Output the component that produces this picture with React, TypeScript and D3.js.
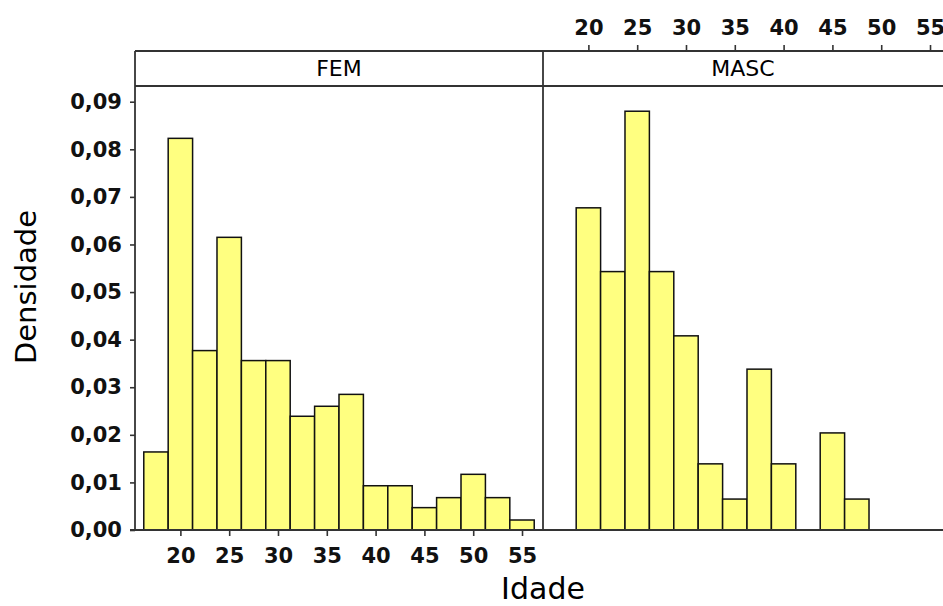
import * as d3 from 'd3';
import React, { useEffect, useRef } from 'react';

// histogram bins (midpoints, width 2.5)
const binMids = [17.5, 20, 22.5, 25, 27.5, 30, 32.5, 35, 37.5, 40, 42.5, 45, 47.5, 50, 52.5, 55];
const binWidth = 2.5;
const femDensity = [0.0164, 0.0823, 0.0377, 0.0615, 0.0356, 0.0356, 0.0239, 0.026, 0.0285, 0.0093, 0.0093, 0.0047, 0.0068, 0.0117, 0.0068, 0.0021];
const mascDensity = [0, 0.0677, 0.0543, 0.088, 0.0543, 0.0408, 0.0139, 0.0065, 0.0338, 0.0139, 0, 0.0204, 0.0065, 0, 0, 0];
const panels = ['FEM', 'MASC'];
const xTicks = [20, 25, 30, 35, 40, 45, 50, 55];
const yTicks = [0, 0.01, 0.02, 0.03, 0.04, 0.05, 0.06, 0.07, 0.08, 0.09];

const W = 943;
const H = 606;
const FONT = '"DejaVu Sans", Verdana, sans-serif';

export default function App() {
  const ref = useRef<SVGSVGElement>(null);

  useEffect(() => {
    const svg = d3.select(ref.current);
    svg.selectAll('*').remove();

    const left = 135, panelW = 408, stripTop = 51, plotTop = 86, base = 530;
    const x = d3.scaleLinear().domain([15.35, 57.15]).range([0, panelW]);
    const y = d3.scaleLinear().domain([0, 0.0933]).range([base, plotTop]);
    const line = '#333';

    svg.append('rect').attr('width', W).attr('height', H).attr('fill', '#fff');

    const series = [femDensity, mascDensity];
    panels.forEach((name, p) => {
      const g = svg.append('g').attr('transform', 'translate(' + (left + p * panelW) + ',0)');
      g.selectAll('rect.bar')
        .data(binMids.map((m, i) => ({ m, v: series[p][i] })).filter(d => d.v > 0))
        .enter()
        .append('rect')
        .attr('class', 'bar')
        .attr('x', d => x(d.m - binWidth / 2))
        .attr('width', d => x(d.m + binWidth / 2) - x(d.m - binWidth / 2))
        .attr('y', d => y(d.v))
        .attr('height', d => base - y(d.v))
        .attr('fill', '#ffff80')
        .attr('stroke', '#111')
        .attr('stroke-width', 1.5);

      // strip label, centred on the visible part of the strip
      const visRight = Math.min(left + (p + 1) * panelW, W);
      svg.append('text')
        .attr('x', (left + p * panelW + visRight) / 2)
        .attr('y', (stripTop + plotTop) / 2)
        .attr('dy', '0.36em')
        .attr('text-anchor', 'middle')
        .style('font-family', FONT)
        .style('font-size', '22px')
        .text(name);
    });

    // frame lines
    const frame = svg.append('g').attr('stroke', line).attr('stroke-width', 1.8).attr('fill', 'none');
    frame.append('line').attr('x1', left).attr('x2', W).attr('y1', stripTop).attr('y2', stripTop);
    frame.append('line').attr('x1', left).attr('x2', W).attr('y1', plotTop).attr('y2', plotTop);
    frame.append('line').attr('x1', left).attr('x2', left).attr('y1', stripTop).attr('y2', base);
    frame.append('line').attr('x1', left + panelW).attr('x2', left + panelW).attr('y1', stripTop).attr('y2', base);
    frame.append('line').attr('x1', left - 5).attr('x2', W).attr('y1', base).attr('y2', base);

    const styleAxis = (g: any) => {
      g.select('.domain').remove();
      g.selectAll('.tick line').attr('stroke', line).attr('stroke-width', 1.6);
      g.selectAll('.tick text')
        .attr('fill', '#111')
        .style('font-family', FONT)
        .style('font-size', '21px')
        .style('font-weight', 'bold');
    };

    // Y axis
    svg.append('g')
      .attr('transform', 'translate(' + left + ',0)')
      .call(d3.axisLeft(y).tickValues(yTicks).tickSize(5).tickPadding(8)
        .tickFormat(d => d3.format('.2f')(d as number).replace('.', ',')))
      .call(styleAxis);

    // bottom X axis (FEM)
    svg.append('g')
      .attr('transform', 'translate(' + left + ',' + base + ')')
      .call(d3.axisBottom(x).tickValues(xTicks).tickSize(6).tickPadding(12).tickFormat(d3.format('d')))
      .call(styleAxis);

    // top X axis (MASC)
    svg.append('g')
      .attr('transform', 'translate(' + (left + panelW) + ',' + stripTop + ')')
      .call(d3.axisTop(x).tickValues(xTicks).tickSize(6).tickPadding(10).tickFormat(d3.format('d')))
      .call(styleAxis);

    // axis titles
    svg.append('text')
      .attr('x', left + panelW)
      .attr('y', 599)
      .attr('text-anchor', 'middle')
      .style('font-family', FONT)
      .style('font-size', '30px')
      .text('Idade');

    svg.append('text')
      .attr('transform', 'translate(36,287) rotate(-90)')
      .attr('text-anchor', 'middle')
      .style('font-family', FONT)
      .style('font-size', '29px')
      .text('Densidade');
  }, []);

  return (
    <svg ref={ref} width={W} height={H}
      style={{ position: 'absolute', left: 0, top: 0, display: 'block' }} />
  );
}
